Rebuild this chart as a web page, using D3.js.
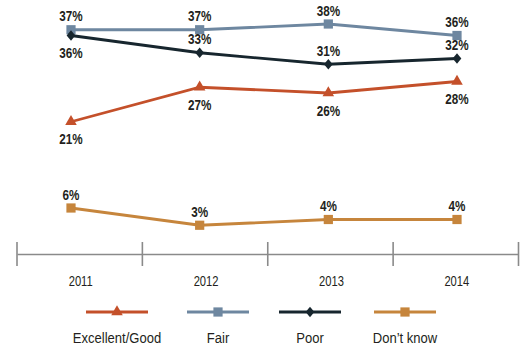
<!DOCTYPE html>
<html>
<head>
<meta charset="utf-8">
<script src="https://cdn.jsdelivr.net/npm/d3@7"></script>
<style>
  html, body { margin: 0; padding: 0; background: #ffffff; }
  svg { display: block; }
  text { font-family: "Liberation Sans", Arial, sans-serif; }
</style>
</head>
<body>
<svg id="chart" width="524" height="347"></svg>
<script>
// Survey years
const years = ["2011", "2012", "2013", "2014"];

// Share of respondents per rating, in percent
const excellentGood = [21, 27, 26, 28];
const fair = [37, 37, 38, 36];
const poor = [36, 33, 31, 32];
const dontKnow = [6, 3, 4, 4];

// Legend entries, in display order
const seriesNames = ["Excellent/Good", "Fair", "Poor", "Don\u2019t know"];

// Whether each point's value label sits above (-1) or below (+1) the marker
const excellentLabelSide = [1, 1, 1, 1];
const fairLabelSide = [-1, -1, -1, -1];
const poorLabelSide = [1, -1, -1, -1];
const dontKnowLabelSide = [-1, -1, -1, -1];

// Marker shapes: the diamond is a square turned 45° and stretched slightly upright
const series = [
  { name: seriesNames[0], values: excellentGood, side: excellentLabelSide, color: "#c4502a", symbol: d3.symbolTriangle, size: 58, extra: "" },
  { name: seriesNames[1], values: fair, side: fairLabelSide, color: "#6e87a0", symbol: d3.symbolSquare, size: 85, extra: "" },
  { name: seriesNames[2], values: poor, side: poorLabelSide, color: "#17262e", symbol: d3.symbolSquare, size: 38, extra: " scale(1,1.2) rotate(45)" },
  { name: seriesNames[3], values: dontKnow, side: dontKnowLabelSide, color: "#c6853c", symbol: d3.symbolSquare, size: 85, extra: "" }
];

const svg = d3.select("#chart");

// Horizontal: data points on a point scale, axis segments on a band scale
const x = d3.scalePoint().domain(years).range([71, 457]);
const xBand = d3.scaleBand().domain(years).range([17, 518.5]).paddingInner(0).paddingOuter(0);
const y = d3.scaleLinear().domain([0, 38]).range([242.5, 24]);

// Axis baseline with segment dividers
const axisY = 254;
const axisG = svg.append("g").attr("transform", `translate(0,${axisY})`);
axisG.call(d3.axisBottom(xBand).tickSize(0).tickFormat(""));
axisG.select(".domain").attr("stroke", "#8a8a8a").attr("stroke-width", 1.6);
const bounds = [...years.map(yr => xBand(yr)), xBand.range()[1]];
axisG.selectAll("line.divider")
  .data(bounds)
  .enter().append("line")
  .attr("class", "divider")
  .attr("x1", d => d).attr("x2", d => d)
  .attr("y1", -12).attr("y2", 12)
  .attr("stroke", "#8a8a8a").attr("stroke-width", 1.6);

// Year labels (regular face squeezed horizontally for a condensed look)
svg.append("g").selectAll("text")
  .data(years)
  .enter().append("text")
  .attr("transform", d => `translate(${xBand(d) + xBand.bandwidth() / 2 + 1},285.5) scale(0.8,1)`)
  .attr("text-anchor", "middle")
  .attr("font-size", 14)
  .attr("fill", "#231f20")
  .text(d => d);

const line = d3.line()
  .x((d, i) => x(years[i]))
  .y(d => y(d));

// Lines, markers, value labels
series.forEach(s => {
  const g = svg.append("g");
  g.append("path")
    .datum(s.values)
    .attr("d", line)
    .attr("fill", "none")
    .attr("stroke", s.color)
    .attr("stroke-width", 2.8);

  g.selectAll("path.marker")
    .data(s.values)
    .enter().append("path")
    .attr("class", "marker")
    .attr("d", d3.symbol().type(s.symbol).size(s.size))
    .attr("transform", (d, i) => `translate(${x(years[i])},${y(d)})` + s.extra)
    .attr("fill", s.color);

  g.selectAll("text")
    .data(s.values)
    .enter().append("text")
    .attr("transform", (d, i) => `translate(${x(years[i])},${y(d) + (s.side[i] > 0 ? 22.5 : -8.5)}) scale(0.78,1)`)
    .attr("text-anchor", "middle")
    .attr("font-size", 15)
    .attr("font-weight", "bold")
    .attr("fill", "#231f20")
    .text(d => d + "%");
});

// Legend
const legendCenters = [117, 218, 310, 405];
const legendY = 312;
const legend = svg.append("g");
series.forEach((s, i) => {
  const cx = legendCenters[i];
  legend.append("line")
    .attr("x1", cx - 31).attr("x2", cx + 31)
    .attr("y1", legendY).attr("y2", legendY)
    .attr("stroke", s.color).attr("stroke-width", 2.8);
  legend.append("path")
    .attr("d", d3.symbol().type(s.symbol).size(s.size)())
    .attr("transform", `translate(${cx},${legendY})` + s.extra)
    .attr("fill", s.color);
  legend.append("text")
    .attr("transform", `translate(${cx},342.5) scale(0.87,1)`)
    .attr("text-anchor", "middle")
    .attr("font-size", 15)
    .attr("fill", "#231f20")
    .text(s.name);
});
</script>
</body>
</html>
